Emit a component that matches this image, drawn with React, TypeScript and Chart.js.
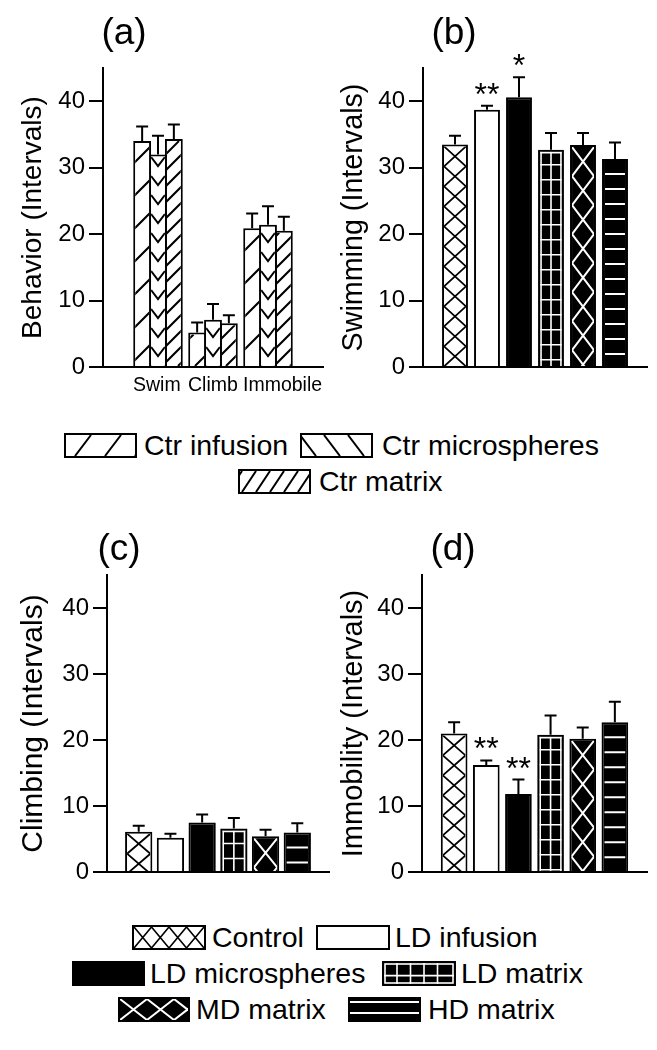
import React, { useEffect, useRef } from 'react';
import { Chart, registerables } from 'chart.js';

Chart.register(...registerables);

const FONT = '"Liberation Sans", Arial, Helvetica, sans-serif';

// ---------------- Data ----------------
// Panel (a): control groups, three behaviours
const behaviorCategories = ['Swim', 'Climb', 'Immobile'];
const ctrSeriesNames = ['Ctr infusion', 'Ctr microspheres', 'Ctr matrix'];
const ctrInfusionMean = [34.0, 5.2, 20.9];
const ctrInfusionSem = [2.2, 1.5, 2.2];
const ctrMicrospheresMean = [32.0, 7.1, 21.4];
const ctrMicrospheresSem = [2.8, 2.4, 2.8];
const ctrMatrixMean = [34.3, 6.6, 20.5];
const ctrMatrixSem = [2.2, 1.2, 2.1];

// Panels (b)-(d): treatment groups
const treatmentGroups = ['Control', 'LD infusion', 'LD microspheres', 'LD matrix', 'MD matrix', 'HD matrix'];
const swimmingMean = [33.5, 38.7, 40.6, 32.7, 33.4, 31.3];
const swimmingSem = [1.3, 0.6, 3.0, 2.5, 1.8, 2.5];
const swimmingSig = ['', '**', '*', '', '', ''];
const climbingMean = [6.1, 5.2, 7.5, 6.6, 5.4, 6.0];
const climbingSem = [0.9, 0.6, 1.2, 1.6, 1.0, 1.4];
const climbingSig = ['', '', '', '', '', ''];
const immobilityMean = [21.0, 16.2, 11.8, 20.8, 20.2, 22.7];
const immobilitySem = [1.7, 0.7, 2.2, 2.9, 1.7, 3.1];
const immobilitySig = ['', '**', '**', '', '', ''];

const yTicks = [0, 10, 20, 30, 40];
const yMax = 45;

// ---------------- Styles ----------------
const ctrHatches = ['slashWide', 'chevron', 'slashDense'];
const ctrLegendHatches = ['slashWide', 'backslash', 'slashDense'];
const groupHatches = ['cross', 'open', 'solid', 'grid', 'bigX', 'hlines'];
const groupFills = ['#fff', '#fff', '#000', '#000', '#000', '#000'];

type Series = { name: string; means: number[]; sems: number[]; fills: string[]; hatches: string[]; sig?: string[] };
type Panel = {
  left: number; top: number; w: number; h: number;
  padL: number; padR: number; padT: number; yWidth: number; xHeight: number;
  categories: string[]; showCat: boolean; catPct: number; barPct: number;
  series: Series[]; yTitle: string; yTitleSize: number; label: string; labelX: number; labelY: number;
};

function seg(ctx: CanvasRenderingContext2D, x1: number, y1: number, x2: number, y2: number) {
  ctx.moveTo(x1, y1);
  ctx.lineTo(x2, y2);
}

function drawBarHatch(ctx: CanvasRenderingContext2D, kind: string, l: number, t: number, r: number, b: number) {
  if (b - t < 1 || r - l < 1) return;
  const w = r - l;
  const m = (l + r) / 2;
  ctx.save();
  ctx.beginPath();
  ctx.rect(l, t, w, b - t);
  ctx.clip();
  ctx.beginPath();
  ctx.lineCap = 'butt';
  ctx.strokeStyle = '#000';
  ctx.lineWidth = 2;
  switch (kind) {
    case 'slashWide':
    case 'slashDense': {
      const s = kind === 'slashWide' ? 33 : 16;
      for (let c = Math.floor((l + t) / s) * s; c <= r + b + s; c += s) seg(ctx, c - b, b, c - t, t);
      break;
    }
    case 'chevron': {
      const d = 9, p = 19;
      for (let y0 = b; y0 > t - d - p; y0 -= p) {
        ctx.moveTo(l, y0);
        ctx.lineTo(m, y0 + d);
        ctx.lineTo(r, y0);
      }
      break;
    }
    case 'cross': {
      const ch = 20;
      ctx.lineWidth = 1.8;
      for (let y0 = t; y0 < b; y0 += ch) {
        seg(ctx, l, y0, r, y0 + ch);
        seg(ctx, r, y0, l, y0 + ch);
      }
      break;
    }
    case 'grid': {
      ctx.strokeStyle = '#fff';
      ctx.lineWidth = 1.6;
      seg(ctx, l + 1, t, l + 1, b);
      seg(ctx, m, t, m, b);
      seg(ctx, r - 1, t, r - 1, b);
      seg(ctx, l, t + 1, r, t + 1);
      for (let y = t + 13; y < b; y += 15) seg(ctx, l, y, r, y);
      break;
    }
    case 'bigX': {
      const ch = 29;
      ctx.strokeStyle = '#fff';
      for (let y0 = t; y0 < b; y0 += ch) {
        seg(ctx, l, y0, r, y0 + ch);
        seg(ctx, r, y0, l, y0 + ch);
      }
      break;
    }
    case 'hlines': {
      ctx.strokeStyle = '#fff';
      for (let y = t + 13; y < b - 1; y += 15) seg(ctx, l + 1, y, r - 1, y);
      break;
    }
    default:
      break;
  }
  ctx.stroke();
  ctx.restore();
}

function makeExtras(p: Panel) {
  return {
    id: 'panelExtras',
    afterDatasetsDraw(chart: any) {
      const ctx: CanvasRenderingContext2D = chart.ctx;
      const yScale = chart.scales.y;
      const bw = 2;
      // hatching
      p.series.forEach((s, di) => {
        const meta = chart.getDatasetMeta(di);
        meta.data.forEach((el: any, i: number) => {
          const k = i - 1;
          if (k < 0 || k >= s.means.length) return;
          const q = el.getProps(['x', 'y', 'base', 'width'], true);
          const half = q.width / 2;
          drawBarHatch(ctx, s.hatches[k], q.x - half + bw, q.y + bw, q.x + half - bw, q.base);
        });
      });
      // error bars and significance marks
      ctx.save();
      ctx.strokeStyle = '#000';
      ctx.fillStyle = '#000';
      ctx.lineWidth = 2;
      p.series.forEach((s, di) => {
        const meta = chart.getDatasetMeta(di);
        meta.data.forEach((el: any, i: number) => {
          const k = i - 1;
          if (k < 0 || k >= s.means.length) return;
          const q = el.getProps(['x', 'y'], true);
          const yTop = yScale.getPixelForValue(s.means[k] + s.sems[k]);
          ctx.beginPath();
          seg(ctx, q.x, q.y, q.x, yTop);
          seg(ctx, q.x - 6, yTop, q.x + 6, yTop);
          ctx.stroke();
          const mark = s.sig ? s.sig[k] : '';
          if (mark) {
            ctx.font = `32px ${FONT}`;
            ctx.textAlign = 'center';
            ctx.textBaseline = 'alphabetic';
            ctx.fillText(mark, q.x, yTop - 1);
          }
        });
      });
      ctx.restore();
    },
    afterDraw(chart: any) {
      const ctx: CanvasRenderingContext2D = chart.ctx;
      ctx.save();
      ctx.fillStyle = '#000';
      ctx.font = `37px ${FONT}`;
      ctx.textAlign = 'center';
      ctx.textBaseline = 'alphabetic';
      ctx.fillText(p.label, p.labelX, p.labelY);
      ctx.restore();
    },
  };
}

function buildConfig(p: Panel): any {
  const labels = ['', ...p.categories, ''];
  const pad = (a: any[]) => [null, ...a, null];
  return {
    type: 'bar',
    data: {
      labels,
      datasets: p.series.map((s) => ({
        label: s.name,
        data: pad(s.means),
        backgroundColor: ['#fff', ...s.fills, '#fff'],
        borderColor: '#000',
        borderWidth: 2,
        borderSkipped: 'start',
        inflateAmount: 0,
        categoryPercentage: p.catPct,
        barPercentage: p.barPct,
      })),
    },
    options: {
      animation: false,
      responsive: false,
      devicePixelRatio: 1,
      layout: { padding: { left: p.padL, right: p.padR, top: p.padT, bottom: 0 } },
      plugins: { legend: { display: false }, tooltip: { enabled: false }, title: { display: false } },
      scales: {
        x: {
          type: 'category',
          offset: false,
          grid: { display: false, drawTicks: false },
          border: { display: true, color: '#000', width: 2 },
          ticks: {
            display: p.showCat,
            font: { family: FONT, size: 19.5 },
            color: '#000',
            autoSkip: false,
            maxRotation: 0,
            minRotation: 0,
            align: 'start',
            labelOffset: -25,
            padding: 7,
          },
          afterFit: (sc: any) => { sc.height = p.xHeight; },
        },
        y: {
          min: 0,
          max: yMax,
          afterBuildTicks: (sc: any) => { sc.ticks = yTicks.map((v) => ({ value: v })); },
          afterFit: (sc: any) => { sc.width = p.yWidth; },
          ticks: { font: { family: FONT, size: 24 }, color: '#000', padding: 4 },
          grid: {
            display: true,
            drawOnChartArea: false,
            drawTicks: true,
            tickLength: 14,
            tickWidth: 2,
            tickColor: '#000',
            color: '#000',
            lineWidth: 2,
          },
          border: { display: true, color: '#000', width: 2 },
          title: { display: true, text: p.yTitle, font: { family: FONT, size: p.yTitleSize }, color: '#000', padding: 0 },
        },
      },
    },
    plugins: [makeExtras(p)],
  };
}

function BarPanel({ p }: { p: Panel }) {
  const ref = useRef<HTMLCanvasElement>(null);
  useEffect(() => {
    const chart = new Chart(ref.current as HTMLCanvasElement, buildConfig(p));
    return () => chart.destroy();
  }, [p]);
  return (
    <canvas
      ref={ref}
      width={p.w}
      height={p.h}
      style={{ position: 'absolute', left: p.left, top: p.top, width: p.w, height: p.h }}
    />
  );
}

function drawSwatch(cv: HTMLCanvasElement, kind: string) {
  const ctx = cv.getContext('2d') as CanvasRenderingContext2D;
  const w = cv.width, h = cv.height;
  const dark = kind === 'solid' || kind === 'grid' || kind === 'bigX' || kind === 'hlines';
  ctx.clearRect(0, 0, w, h);
  ctx.fillStyle = dark ? '#000' : '#fff';
  ctx.fillRect(0, 0, w, h);
  const l = 2, t = 2, r = w - 2, b = h - 2;
  const ih = b - t;
  ctx.save();
  ctx.beginPath();
  ctx.rect(l, t, r - l, b - t);
  ctx.clip();
  ctx.beginPath();
  ctx.strokeStyle = dark ? '#fff' : '#000';
  ctx.lineWidth = 2;
  switch (kind) {
    case 'slashWide':
      for (let x0 = l + 9; x0 < r + 20; x0 += 30) seg(ctx, x0, b, x0 + 16, t);
      break;
    case 'backslash':
      for (let x0 = l - 2; x0 < r; x0 += 24) seg(ctx, x0, t, x0 + 16, b);
      break;
    case 'slashDense':
      for (let x0 = l - 12; x0 < r; x0 += 14) seg(ctx, x0, b, x0 + 14, t);
      break;
    case 'cross': {
      const cw = 17.5;
      ctx.lineWidth = 1.6;
      for (let x0 = l; x0 < r; x0 += cw) {
        seg(ctx, x0, t, x0 + cw, b);
        seg(ctx, x0 + cw, t, x0, b);
      }
      break;
    }
    case 'grid': {
      ctx.lineWidth = 1.6;
      ctx.strokeRect(l + 1, t + 1, r - l - 2, b - t - 2);
      for (let x = l + 13; x < r - 4; x += 13.5) seg(ctx, x, t, x, b);
      seg(ctx, l, t + ih * 0.6, r, t + ih * 0.6);
      break;
    }
    case 'bigX': {
      const cw = 27;
      for (let x0 = l; x0 < r; x0 += cw) {
        seg(ctx, x0, t, x0 + cw, b);
        seg(ctx, x0 + cw, t, x0, b);
      }
      break;
    }
    case 'hlines':
      seg(ctx, l, t + 3, r, t + 3);
      seg(ctx, l, t + 14, r, t + 14);
      break;
    default:
      break;
  }
  ctx.stroke();
  ctx.restore();
  ctx.strokeStyle = '#000';
  ctx.lineWidth = 2;
  ctx.strokeRect(1, 1, w - 2, h - 2);
}

type LegendItem = { text: string; kind: string; box: number[]; textX: number };

function LegendEntry({ item }: { item: LegendItem }) {
  const ref = useRef<HTMLCanvasElement>(null);
  const [x, y, w, h] = item.box;
  useEffect(() => {
    if (ref.current) drawSwatch(ref.current, item.kind);
  }, [item]);
  return (
    <>
      <canvas ref={ref} width={w} height={h} style={{ position: 'absolute', left: x, top: y, width: w, height: h }} />
      <div
        style={{
          position: 'absolute',
          left: item.textX,
          top: y,
          fontFamily: FONT,
          fontSize: '28.5px',
          lineHeight: `${h}px`,
          color: '#000',
          whiteSpace: 'nowrap',
        }}
      >
        {item.text}
      </div>
    </>
  );
}

// legend layout (page pixels)
const topLegendBoxes = [[64, 433, 73, 25], [300, 433, 73, 25], [238, 469, 73, 25]];
const topLegendTextX = [144, 382, 319];
const bottomLegendBoxes = [[132, 925, 74, 25], [316, 925, 74, 25], [72, 961, 73, 25], [382, 961, 74, 25], [118, 997, 72, 25], [348, 997, 73, 25]];
const bottomLegendTextX = [212, 395, 150, 461, 196, 428];

const panelA: Panel = {
  left: 0, top: 0, w: 330, h: 400, padL: 16, padR: 5, padT: 68, yWidth: 87, xHeight: 33,
  categories: behaviorCategories, showCat: true, catPct: 0.865, barPct: 1.125,
  series: [
    { name: ctrSeriesNames[0], means: ctrInfusionMean, sems: ctrInfusionSem, fills: ['#fff', '#fff', '#fff'], hatches: [ctrHatches[0], ctrHatches[0], ctrHatches[0]] },
    { name: ctrSeriesNames[1], means: ctrMicrospheresMean, sems: ctrMicrospheresSem, fills: ['#fff', '#fff', '#fff'], hatches: [ctrHatches[1], ctrHatches[1], ctrHatches[1]] },
    { name: ctrSeriesNames[2], means: ctrMatrixMean, sems: ctrMatrixSem, fills: ['#fff', '#fff', '#fff'], hatches: [ctrHatches[2], ctrHatches[2], ctrHatches[2]] },
  ],
  yTitle: 'Behavior (Intervals)', yTitleSize: 28, label: '(a)', labelX: 124, labelY: 44,
};

const panelB: Panel = {
  left: 330, top: 0, w: 327, h: 400, padL: 7, padR: 10, padT: 68, yWidth: 86, xHeight: 33,
  categories: treatmentGroups, showCat: false, catPct: 1, barPct: 0.81,
  series: [{ name: 'Swimming', means: swimmingMean, sems: swimmingSem, fills: groupFills, hatches: groupHatches, sig: swimmingSig }],
  yTitle: 'Swimming (Intervals)', yTitleSize: 28.7, label: '(b)', labelX: 124, labelY: 44,
};

const panelC: Panel = {
  left: 0, top: 500, w: 330, h: 400, padL: 16, padR: 1, padT: 75, yWidth: 91, xHeight: 28,
  categories: treatmentGroups, showCat: false, catPct: 1, barPct: 0.86,
  series: [{ name: 'Climbing', means: climbingMean, sems: climbingSem, fills: groupFills, hatches: groupHatches, sig: climbingSig }],
  yTitle: 'Climbing (Intervals)', yTitleSize: 30, label: '(c)', labelX: 119, labelY: 60,
};

const panelD: Panel = {
  left: 330, top: 500, w: 327, h: 400, padL: 7, padR: 10, padT: 75, yWidth: 85, xHeight: 28,
  categories: treatmentGroups, showCat: false, catPct: 1, barPct: 0.83,
  series: [{ name: 'Immobility', means: immobilityMean, sems: immobilitySem, fills: groupFills, hatches: groupHatches, sig: immobilitySig }],
  yTitle: 'Immobility (Intervals)', yTitleSize: 29, label: '(d)', labelX: 123, labelY: 60,
};

const topLegend: LegendItem[] = ctrSeriesNames.map((n, i) => ({ text: n, kind: ctrLegendHatches[i], box: topLegendBoxes[i], textX: topLegendTextX[i] }));
const bottomLegend: LegendItem[] = treatmentGroups.map((n, i) => ({ text: n, kind: groupHatches[i], box: bottomLegendBoxes[i], textX: bottomLegendTextX[i] }));

export default function App() {
  return (
    <div style={{ position: 'absolute', left: 0, top: 0, width: 657, height: 1050, background: '#fff', overflow: 'hidden' }}>
      <BarPanel p={panelA} />
      <BarPanel p={panelB} />
      <BarPanel p={panelC} />
      <BarPanel p={panelD} />
      {topLegend.map((it) => <LegendEntry key={it.text} item={it} />)}
      {bottomLegend.map((it) => <LegendEntry key={it.text} item={it} />)}
    </div>
  );
}
